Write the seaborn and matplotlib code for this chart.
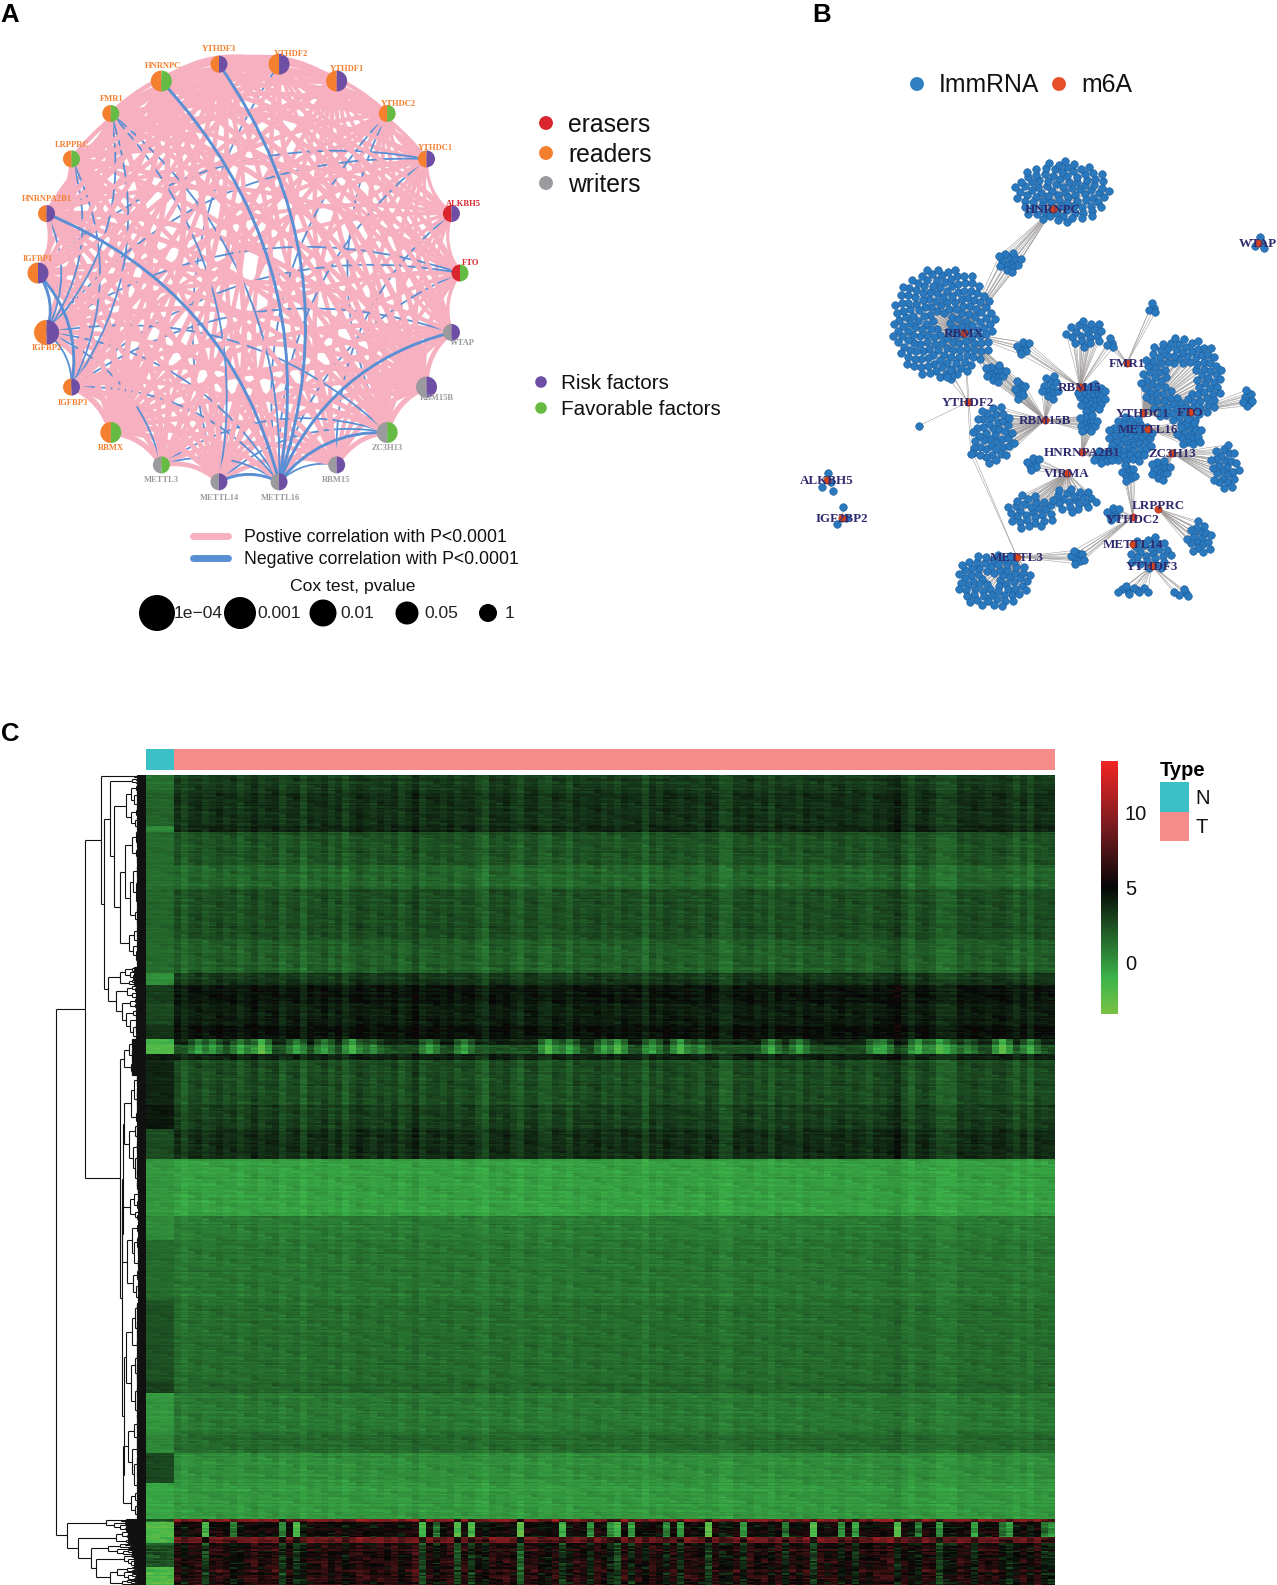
"""Three panel m6A figure: correlation ring, ImmRNA network, expression heatmap."""
import matplotlib
matplotlib.use("Agg")
import matplotlib.pyplot as plt
from matplotlib.collections import LineCollection
from matplotlib.colors import LinearSegmentedColormap, ListedColormap
from matplotlib.patches import Circle, PathPatch, Rectangle, Wedge
from matplotlib.path import Path
import numpy as np
import pandas as pd
import seaborn as sns

# Panel A: ring nodes, clockwise from the top
genes = ["YTHDF2", "YTHDF1", "YTHDC2", "YTHDC1", "ALKBH5", "FTO", "WTAP", "RBM15B",
         "ZC3H13", "RBM15", "METTL16", "METTL14", "METTL3", "RBMX", "IGFBP3", "IGFBP2",
         "IGFBP1", "HNRNPA2B1", "LRPPRC", "FMR1", "HNRNPC", "YTHDF3"]
gene_group = ["readers", "readers", "readers", "readers", "erasers", "erasers", "writers", "writers",
              "writers", "writers", "writers", "writers", "writers", "readers", "readers", "readers",
              "readers", "readers", "readers", "readers", "readers", "readers"]
gene_effect = ["risk", "risk", "fav", "risk", "risk", "fav", "risk", "risk",
               "fav", "risk", "risk", "risk", "fav", "fav", "risk", "risk",
               "risk", "risk", "fav", "fav", "fav", "risk"]
gene_pvalue = [0.01, 0.01, 0.05, 0.05, 0.05, 0.05, 0.05, 0.01,
               0.01, 0.05, 0.05, 0.05, 0.05, 0.01, 0.05, 0.001,
               0.01, 0.05, 0.05, 0.05, 0.01, 0.05]
gene_strength = [0.5, 0.5, 0.5, 0.4, 0.2, 0.3, 0.4, 0.8,
                 0.7, 0.6, 0.6, 0.7, 0.6, 1.0, 0.7, 0.7,
                 0.6, 0.8, 0.6, 0.7, 0.9, 0.5]
negative_pairs = [("HNRNPC", "METTL16"), ("YTHDF3", "METTL16"), ("YTHDF2", "METTL14"), ("YTHDC2", "METTL16"),
                  ("YTHDC2", "ZC3H13"), ("YTHDC1", "IGFBP2"), ("YTHDC1", "IGFBP1"), ("YTHDC1", "METTL16"),
                  ("ALKBH5", "RBM15"), ("FTO", "IGFBP2"), ("FTO", "METTL16"), ("FTO", "IGFBP3"),
                  ("WTAP", "METTL16"), ("WTAP", "IGFBP3"), ("ZC3H13", "METTL16"), ("ZC3H13", "IGFBP2"),
                  ("ZC3H13", "METTL14"), ("ZC3H13", "METTL3"), ("RBM15", "METTL16"), ("METTL16", "METTL14"),
                  ("METTL16", "METTL3"), ("METTL3", "IGFBP2"), ("IGFBP3", "IGFBP2"), ("IGFBP3", "IGFBP1"),
                  ("IGFBP3", "METTL16"), ("IGFBP3", "FMR1"), ("IGFBP2", "IGFBP1"), ("IGFBP2", "FMR1"),
                  ("IGFBP2", "METTL16"), ("HNRNPA2B1", "METTL16"), ("LRPPRC", "IGFBP3"), ("LRPPRC", "IGFBP2"),
                  ("FMR1", "METTL16"), ("FMR1", "METTL14"), ("IGFBP2", "HNRNPA2B1")]
strong_negative = [("HNRNPC", "METTL16"), ("YTHDF3", "METTL16"), ("HNRNPA2B1", "METTL16"), ("IGFBP2", "IGFBP1"),
                   ("IGFBP3", "IGFBP1"), ("ZC3H13", "METTL16"), ("WTAP", "METTL16"), ("METTL16", "METTL14")]
absent_pairs = [("FMR1", "YTHDC1"), ("FMR1", "FTO"), ("LRPPRC", "ALKBH5"), ("LRPPRC", "WTAP"), ("LRPPRC", "YTHDF1"),
                ("HNRNPC", "ALKBH5"), ("HNRNPC", "RBM15"), ("YTHDF3", "ALKBH5"), ("YTHDF3", "FTO"), ("YTHDF3", "RBM15"),
                ("YTHDF2", "WTAP"), ("YTHDF2", "RBM15"), ("YTHDF2", "METTL3"), ("YTHDF1", "METTL3"), ("YTHDF1", "IGFBP2"),
                ("YTHDF1", "IGFBP1"), ("YTHDC2", "IGFBP1"), ("YTHDC2", "IGFBP3"), ("YTHDC1", "METTL3"), ("YTHDC1", "HNRNPA2B1"),
                ("ALKBH5", "IGFBP1"), ("ALKBH5", "RBMX"), ("ALKBH5", "METTL14"), ("FTO", "IGFBP1"), ("FTO", "METTL3"),
                ("WTAP", "IGFBP1"), ("WTAP", "HNRNPA2B1"), ("RBM15", "IGFBP1"), ("RBM15", "LRPPRC"), ("METTL3", "FMR1")]
pvalue_levels = ["1e\u221204", "0.001", "0.01", "0.05", "1"]

# Panel B: hub genes and the modules of ImmRNA attached to them
hubs = ["HNRNPC", "RBMX", "YTHDF2", "FMR1", "RBM15", "RBM15B", "YTHDC1", "FTO", "METTL16", "ZC3H13",
        "HNRNPA2B1", "VIRMA", "LRPPRC", "YTHDC2", "METTL14", "YTHDF3", "METTL3", "ALKBH5", "IGF2BP2", "WTAP"]
hub_x = [1053, 964, 968, 1127, 1080, 1045, 1143, 1190, 1148, 1172, 1082, 1067, 1158, 1133, 1133, 1152, 1017, 827, 842, 1258]
hub_y = [209, 333, 402, 363, 387, 420, 413, 412, 429, 453, 452, 473, 509, 517, 544, 566, 557, 480, 518, 243]
module_hubs = [["HNRNPC"], ["HNRNPC", "RBMX"], ["RBMX"], ["RBMX", "RBM15"], ["RBMX", "RBM15B"], ["RBM15"], ["RBM15", "FMR1"],
               ["FMR1"], ["YTHDC1"], ["FTO"], ["RBM15"], ["RBM15B"], ["RBMX", "RBM15B"], ["RBM15B"], ["RBM15B", "HNRNPA2B1"],
               ["METTL16"], ["METTL16"], ["ZC3H13"], ["ZC3H13"], ["YTHDC2"], ["VIRMA"], ["HNRNPA2B1"], ["VIRMA"], ["VIRMA"],
               ["LRPPRC"], ["METTL3", "YTHDC2"], ["METTL3"], ["METTL14"], ["YTHDF3"], ["YTHDF3"], ["YTHDC2"],
               ["YTHDF2"], ["RBMX", "METTL3"], ["YTHDF2"], ["ALKBH5"], ["IGF2BP2"], ["WTAP"]]
module_size = [95, 14, 180, 7, 14, 20, 4, 4, 110, 10, 28, 12, 8, 45, 15, 50, 18, 26, 14, 9, 7, 10, 30, 22,
               18, 9, 70, 25, 10, 5, 7, 1, 2, 3, 4, 3, 4]
module_x = [1062, 1009, 943, 1023, 995, 1085, 1110, 1152, 1182, 1248, 1092, 1050, 1020, 993, 1088, 1130, 1190, 1225, 1160,
            1128, 1033, 1103, 1030, 1073, 1200, 1077, 993, 1150, 1133, 1183, 1113, 918, 972, 950, 827, 842, 1259]
module_y = [192, 262, 323, 347, 373, 333, 343, 308, 380, 398, 397, 387, 390, 435, 423, 440, 433, 467, 470, 473, 463, 457,
            512, 500, 538, 557, 580, 553, 590, 593, 513, 426, 453, 375, 482, 518, 243]
module_rx = [48, 12, 52, 8, 11, 20, 6, 6, 42, 5, 15, 10, 7, 22, 10, 24, 13, 15, 10, 8, 8, 10, 25, 23, 13, 8, 38, 23, 17,
             10, 8, 1, 2, 5, 10, 10, 9]
module_ry = [32, 12, 57, 8, 10, 14, 6, 6, 44, 10, 15, 13, 10, 30, 10, 24, 15, 24, 12, 10, 8, 8, 18, 13, 18, 8, 28, 17, 5,
             5, 8, 1, 2, 5, 12, 12, 7]
module_hole = [0.0, 0.0, 0.12, 0.0, 0.0, 0.0, 0.0, 0.0, 0.35, 0.0, 0.0, 0.0, 0.0, 0.0, 0.0, 0.0, 0.0, 0.0, 0.0, 0.0, 0.0, 0.0,
               0.0, 0.0, 0.0, 0.0, 0.15, 0.0, 0.0, 0.0, 0.0, 0.0, 0.0, 0.0, 0.0, 0.0, 0.0]

# Panel C: heatmap bands top to bottom, number of rows and level in tumour / normal
band_rows = [5, 12, 2, 11, 8, 17, 11, 4, 6, 7, 5, 2, 3, 2, 15, 8, 10, 19, 8, 20, 27, 4, 13, 7, 10, 12, 1, 5, 2, 8, 6]
band_tumour = [3.0, 3.4, 3.8, 2.2, 1.6, 2.4, 1.8, 3.2, 4.4, 4.0, 4.5, 3.9, 2.4, 3.9, 2.4, 2.9, 3.5,
               -0.4, 0.9, 1.1, 1.4, 1.7, 1.0, 1.5, 0.2, -0.1, 9.0, 4.9, 8.0, 5.4, 5.8]
band_normal = [1.4, 1.8, 0.4, 1.5, 1.4, 1.7, 1.5, 0.2, 3.1, 2.7, 3.4, -1.2, -1.9, 4.3, 3.9, 4.4, 2.6,
               0.0, 0.4, 1.5, 2.4, 3.0, 0.0, 0.5, 2.7, -0.5, 2.0, -2.0, -1.6, 2.3, -1.7]
# which column pattern applies to the band: 0 upper, 1 spots, 2 middle, 3 green, 4 red
band_pattern = [0, 0, 0, 0, 0, 0, 0, 0, 0, 0, 0, 1, 1, 2, 2, 2, 2, 3, 3, 3, 3, 3, 3, 3, 3, 3, 4, 5, 4, 4, 4]
col_base = [0.2, -0.5, 0.1, 0.3, -0.2, 0.1, 0.4, 0.0, 0.3, -0.3, 0.1, 0.5, -0.1, 0.2, 0.4, -0.4, 0.1, 0.3, -0.6, 0.2,
            0.0, 0.4, -0.2, 0.3, -0.5, 0.1, 0.5, 0.2, -0.1, 0.3, 0.0, 0.4, -0.3, 0.1, 0.7, -0.2, 0.2, 0.3, 0.0, 0.4,
            -0.1, 0.2, 0.3, -0.2, -0.7, 0.3, 0.1, 0.4, -0.1, -0.5, 0.2, 0.3, -0.3, -0.4, 0.2, 0.1, -0.4, 0.3, 0.0, 0.2,
            0.4, -0.1, 0.2, -0.2, 0.3, 0.1, 0.2, -0.6, 0.3, -0.1, 0.4, 0.2, 0.0, 0.3, 0.1, -0.2, 0.4, 0.2, -0.6, -0.5,
            0.3, 0.1, 0.4, -0.1, 0.2, -0.4, 0.3, 0.0, 0.2, -0.2, 0.4, 0.1, 0.3, -0.1, 0.2, 0.4, 0.0, 0.3, 0.1, -0.2,
            0.3, 0.2, 0.5, 0.9, 0.1, -0.5, 0.2, 0.4, 0.0, -0.6, -0.5, -0.5, 0.3, 0.1, 0.4, 0.2, 0.0, 0.3, 0.4, 0.1,
            -0.4, 0.2, -0.5, 0.3, 0.1, 0.2]
spot_cols = [3, 5, 9, 12, 17, 21, 25, 28, 36, 41, 53, 56, 61, 63, 68, 72, 75, 85, 89, 100, 101, 106, 109, 110, 113, 118, 122]
spot_drop = [3, 3, 3, 5, 3, 3, 4, 2, 3, 3, 4, 3, 3, 4, 3, 4, 2, 3, 3, 3, 3, 4, 4, 3, 2, 5, 3]
red_cols = [4, 8, 15, 17, 35, 37, 40, 42, 49, 55, 59, 62, 63, 65, 70, 72, 76, 81, 87, 91, 95, 97, 103, 106, 109, 114, 118, 119, 124, 125]
red_drop = [6, 4, 4, 7, 6, 4, 7, 7, 7, 6, 5, 5, 6, 5, 5, 5, 8, 5, 4, 7, 5, 6, 8, 4, 4, 6, 4, 5, 4, 5]
row_fine = [0.2, -0.3, 0.1, 0.4, -0.1, -0.4, 0.3, 0.0, 0.5, -0.2, 0.1, -0.5, 0.3, 0.2, -0.1,
            0.4, -0.3, 0.0, 0.2, -0.2, 0.6, -0.4, 0.1, 0.3, -0.1, -0.3, 0.2, 0.0, 0.4, -0.2, 0.1]
cell_fine = [0.3, -0.4, 0.1, 0.6, -0.2, 0.0, 0.4, -0.6, 0.2, -0.1, 0.5, -0.3, 0.1, 0.3, -0.5, 0.0, 0.2,
             -0.2, 0.4, -0.4, 0.6, 0.1, -0.1, 0.3, -0.6, 0.2, 0.0, 0.5, -0.3, 0.1, -0.2, 0.4, -0.5, 0.2, 0.3, -0.1, 0.0]
n_normal = 4
colorbar_ticks = [0, 5, 10]
type_names = ["N", "T"]

W, H = 1277, 1585
BLUE_NODE = "#2a78bd"
TEAL = "#3cc0c8"
SALMON = "#f58c8a"
group_colors = {"erasers": "#d9252e", "readers": "#f47f2f", "writers": "#9a9a9f"}
effect_colors = {"risk": "#6e4fa3", "fav": "#66bb44"}
node_radius = {0.05: 8.5, 0.01: 10.5, 0.001: 12.5}

sns.set_theme(style="white")
plt.rcParams["font.family"] = ["Liberation Sans", "DejaVu Sans"]
fig = plt.figure(figsize=(W / 100, H / 100), dpi=100)


def px_axes(x0, y0, x1, y1):
    return fig.add_axes([x0 / W, 1 - y1 / H, (x1 - x0) / W, (y1 - y0) / H])


canvas = px_axes(0, 0, W, H)
canvas.set_axis_off()

# --- panel A ---
cx, cy, ring = 249, 273, 211
angles = np.deg2rad(8.18 + 360 / len(genes) * np.arange(len(genes)))
node_x = cx + ring * np.sin(angles)
node_y = cy - ring * np.cos(angles)
pos = {g: (node_x[i], node_y[i]) for i, g in enumerate(genes)}
index = {g: i for i, g in enumerate(genes)}


def edge(a, b, color, lw, z):
    i, j = sorted((index[a], index[b]))
    p0, p1 = np.array(pos[genes[i]]), np.array(pos[genes[j]])
    d = p1 - p0
    # bend to the right of the direction of travel, like igraph curved edges
    ctrl = (p0 + p1) / 2 + 0.25 * np.array([-d[1], d[0]])
    path = Path([p0, ctrl, p1], [Path.MOVETO, Path.CURVE3, Path.CURVE3])
    canvas.add_patch(PathPatch(path, fc="none", ec=color, lw=lw, zorder=z, capstyle="butt"))


negative = {frozenset(p) for p in negative_pairs}
strong = {frozenset(p) for p in strong_negative}
absent = {frozenset(p) for p in absent_pairs}
z = 2.0
for i, a in enumerate(genes):
    for b in genes[i + 1:]:
        key = frozenset((a, b))
        z += 0.001
        if key in negative:
            edge(a, b, "#5b8fd4", 2.1 if key in strong else 1.3, z + (0.15 if key in strong else 0))
        elif key not in absent:
            edge(a, b, "#f6b0c0", 1.5 + 3.0 * (gene_strength[i] + gene_strength[index[b]]) / 2, z)

for g, x, y, grp, eff, p in zip(genes, node_x, node_y, gene_group, gene_effect, gene_pvalue):
    r = node_radius[p]
    canvas.add_patch(Wedge((x, y), r, 90, 270, fc=group_colors[grp], ec="none", zorder=4))
    canvas.add_patch(Wedge((x, y), r, -90, 90, fc=effect_colors[eff], ec="none", zorder=4))

label_dx = [12, 10, 11, 9, 12, 11, 11, 10, 0, -1, 1, 0, 0, 0, 1, 0, 0, 0, 1, 1, 2, 0]
label_dy = [-10, -12, -10, -11, -10, -10, 11, 11, 16, 15, 16, 16, 15, 16, 16, 16, -14, -15, -14, -15, -15, -15]
for g, x, y, grp, dx, dy in zip(genes, node_x, node_y, gene_group, label_dx, label_dy):
    canvas.text(x + dx, y + dy, g, family="Liberation Serif", weight="bold", fontsize=6.1,
                color=group_colors[grp], ha="center", va="center", zorder=5)

legend_dots = pd.DataFrame({
    "x": [546, 546, 546, 541, 541, 917, 1059],
    "y": [123, 153, 183, 382, 408, 84, 84],
    "key": ["erasers", "readers", "writers", "Risk factors", "Favorable factors", "ImmRNA", "m6A"],
})
dot_palette = {"erasers": "#d9252e", "readers": "#f47f2f", "writers": "#9a9a9f", "Risk factors": "#6e4fa3",
               "Favorable factors": "#66bb44", "ImmRNA": "#2f7fc1", "m6A": "#e8502a"}
sns.scatterplot(data=legend_dots[:3], x="x", y="y", hue="key", palette=dot_palette, s=100, linewidth=0,
                legend=False, ax=canvas)
sns.scatterplot(data=legend_dots[3:5], x="x", y="y", hue="key", palette=dot_palette, s=70, linewidth=0,
                legend=False, ax=canvas)
sns.scatterplot(data=legend_dots[5:], x="x", y="y", hue="key", palette=dot_palette, s=100, linewidth=0,
                legend=False, ax=canvas)
for row in legend_dots.itertuples():
    big = row.Index < 3 or row.Index > 4
    canvas.text(row.x + (22 if big else 20), row.y + 1.5, row.key, fontsize=17.8 if big else 14.9,
                color="#111111", va="center", ha="left")

canvas.plot([193, 228], [536, 536], color="#f6b0c0", lw=5, solid_capstyle="round")
canvas.plot([193, 228], [558, 558], color="#5b8fd4", lw=5, solid_capstyle="round")
canvas.text(244, 538, "Postive correlation with P<0.0001", fontsize=12.7, va="center", color="#111111")
canvas.text(244, 560, "Negative correlation with P<0.0001", fontsize=12.7, va="center", color="#111111")
canvas.text(353, 586, "Cox test, pvalue", fontsize=12.6, va="center", ha="center", color="#111111")
for x, r, lab in zip([157, 240, 323, 407, 488], [18, 16, 13.5, 11.5, 9], pvalue_levels):
    canvas.add_patch(Circle((x, 613), r, fc="black", ec="none", zorder=3))
    canvas.text(x + 17, 614, lab, fontsize=12.6, va="center", color="#222222", zorder=2)

# --- panel B ---
hub_pos = {h: (x, y) for h, x, y in zip(hubs, hub_x, hub_y)}
golden = np.pi * (3 - np.sqrt(5))
node_rows = []
segments = []
for owners, n, mx, my, rx, ry, hole in zip(module_hubs, module_size, module_x, module_y, module_rx, module_ry, module_hole):
    k = np.arange(n)
    rad = np.sqrt(hole ** 2 + (1 - hole ** 2) * (k + 0.5) / n)
    xs = mx + rx * rad * np.cos(k * golden)
    ys = my + ry * rad * np.sin(k * golden)
    node_rows.append(pd.DataFrame({"x": xs, "y": ys}))
    for h in owners:
        segments += [[hub_pos[h], (x, y)] for x, y in zip(xs, ys)]
canvas.add_collection(LineCollection(segments, colors="#a09c9c", linewidths=0.4, zorder=2))
nodes = pd.concat(node_rows)
sns.scatterplot(data=nodes, x="x", y="y", color=BLUE_NODE, s=30, edgecolor="#1c5c98", linewidth=0.4,
                zorder=3, ax=canvas)
sns.scatterplot(x=hub_x, y=hub_y, color="#d8431f", s=28, marker="o", edgecolor="#9c2c14", linewidth=0.4,
                zorder=4, ax=canvas)
hub_label_dy = [1, 1, 1, 1, 1, 1, 1, 1, 1, 1, 1, 1, -3, 3, 1, 1, 1, 1, 1, 1]
for h, x, y, dy in zip(hubs, hub_x, hub_y, hub_label_dy):
    canvas.text(x, y + dy, h, family="Liberation Serif", weight="bold", fontsize=9.4, color="#2e2a6e",
                ha="center", va="center", zorder=5)

canvas.set_xlim(0, W)
canvas.set_ylim(H, 0)
canvas.set_xlabel("")
canvas.set_ylabel("")

for lab, x, y in zip("ABC", [0, 812, 1], [15, 15, 734]):
    canvas.text(x, y, lab, fontsize=18.5, weight="bold", color="black", va="center", ha="left")

# --- panel C ---
cmap = LinearSegmentedColormap.from_list(
    "gbr", [(0, "#78c143"), (0.14, "#3cb44a"), (0.5, "#060606"), (0.72, "#6e1a1e"), (1, "#f02424")])
vmin, vmax = -3.4, 13.4
rows_per_band = np.array(band_rows) * 2
row_t = np.repeat(band_tumour, rows_per_band)
row_n = np.repeat(band_normal, rows_per_band)
row_kind = np.repeat(band_pattern, rows_per_band)
n_rows, n_cols = len(row_t), n_normal + len(col_base)
expr = np.zeros((n_rows, n_cols))
col_scale = {0: 1.0, 1: 0.5, 2: 1.2, 3: 0.5, 4: 1.8, 5: 1.0}
noise_scale = {0: 0.6, 1: 0.8, 2: 0.6, 3: 0.6, 4: 1.7, 5: 1.5}
spots = dict(zip(spot_cols, spot_drop))
reds = dict(zip(red_cols, red_drop))
for i in range(n_rows):
    kind = row_kind[i]
    for j in range(n_cols):
        wiggle = (row_fine[i % len(row_fine)] + cell_fine[(i * 7 + j * 3) % len(cell_fine)]) * noise_scale[kind]
        if j < n_normal:
            expr[i, j] = row_n[i] + wiggle * 0.7
            continue
        t = j - n_normal
        val = row_t[i] + col_scale[kind] * col_base[t] + wiggle
        if kind == 1:
            val -= max(spots.get(t, 0), 0.5 * spots.get(t - 1, 0), 0.5 * spots.get(t + 1, 0))
        elif kind == 5:
            val -= reds.get(t, 0)
        elif kind == 4:
            val -= reds.get(t, 0) * 0.4
        expr[i, j] = val

heat_ax = px_axes(146, 775, 1055, 1585)
sns.heatmap(expr, vmin=vmin, vmax=vmax, cmap=cmap, cbar=False, xticklabels=False, yticklabels=False, ax=heat_ax)

type_ax = px_axes(146, 749, 1055, 770)
sns.heatmap(np.array([[0] * n_normal + [1] * len(col_base)]), cmap=ListedColormap([TEAL, SALMON]), cbar=False,
            xticklabels=False, yticklabels=False, ax=type_ax)

cbar_ax = px_axes(1101, 761, 1118, 1014)
sm = plt.cm.ScalarMappable(cmap=cmap, norm=plt.Normalize(vmin, vmax))
cbar = fig.colorbar(sm, cax=cbar_ax)
cbar.outline.set_visible(False)
cbar.set_ticks(colorbar_ticks)
cbar.ax.tick_params(length=0, labelsize=14.5, pad=5, labelcolor="#111111")

canvas.text(1160, 770, "Type", fontsize=14.5, weight="bold", va="center", color="black")
for k, (name, col) in enumerate(zip(type_names, [TEAL, SALMON])):
    canvas.add_patch(Rectangle((1160, 782 + k * 29.5), 29, 29.5, fc=col, ec="none"))
    canvas.text(1195, 798 + k * 29.5, name, fontsize=14.5, va="center", color="#111111")

# dendrogram: clade = (height, top, bottom), leaf = [first row, last row, height, floor]
dend_ax = px_axes(50, 775, 146, 1585)
dend_ax.set_axis_off()
dend_ax.set_xlim(96, 0)
dend_ax.set_ylim(270, 0)
ratios = [0.5, 0.3, 0.62, 0.42, 0.7, 0.35, 0.55, 0.25]
dend_lines = []
step = [0]


def link(h, h0, y0, h1, y1):
    dend_lines.extend([[(h, y0), (h, y1)], [(h, y0), (h0, y0)], [(h, y1), (h1, y1)]])


def dense(r0, r1, h, floor):
    # fine merges down to the leaves, solid black where they pile up
    if r1 - r0 < 0.2:
        dend_lines.append([(h, (r0 + r1) / 2), (0, (r0 + r1) / 2)])
        return (r0 + r1) / 2
    step[0] += 1
    cut = r0 + (r1 - r0) * ratios[step[0] % len(ratios)]
    h0 = max(floor, h * (0.55 + 0.35 * (cut - r0) / (r1 - r0)))
    h1 = max(floor, h * (0.55 + 0.35 * (r1 - cut) / (r1 - r0)))
    y0, y1 = dense(r0, cut, h0, floor), dense(cut, r1, h1, floor)
    link(h, h0, y0, h1, y1)
    return (y0 + y1) / 2


def clade(node):
    if isinstance(node, list):
        return node[2], dense(node[0], node[1], node[2], node[3])
    h, top, bottom = node
    h0, y0 = clade(top)
    h1, y1 = clade(bottom)
    link(h, h0, y0, h1, y1)
    return h, (y0 + y1) / 2


upper = (45, [0, 1, 12, 9], (42, (36, [1, 3, 14, 9], [3, 64, 32, 9]), (38, [64, 70, 26, 12], [70, 88, 30, 10])))
lower = (26, [88, 100, 22, 14], (24, (23, [100, 138, 22, 9], [138, 176, 24, 8]), (22, [176, 215, 20, 9], [215, 248, 23, 9])))
tail = (79, [248, 252, 40, 20], (68, [252, 256, 30, 18], (55, [256, 260, 38, 14], (50, [260, 264, 22, 12], [264, 270, 36, 10]))))
clade((90, (61, upper, lower), tail))
dend_ax.add_collection(LineCollection(dend_lines, colors="#111111", linewidths=0.8))

fig.savefig("out.png", dpi=100)
